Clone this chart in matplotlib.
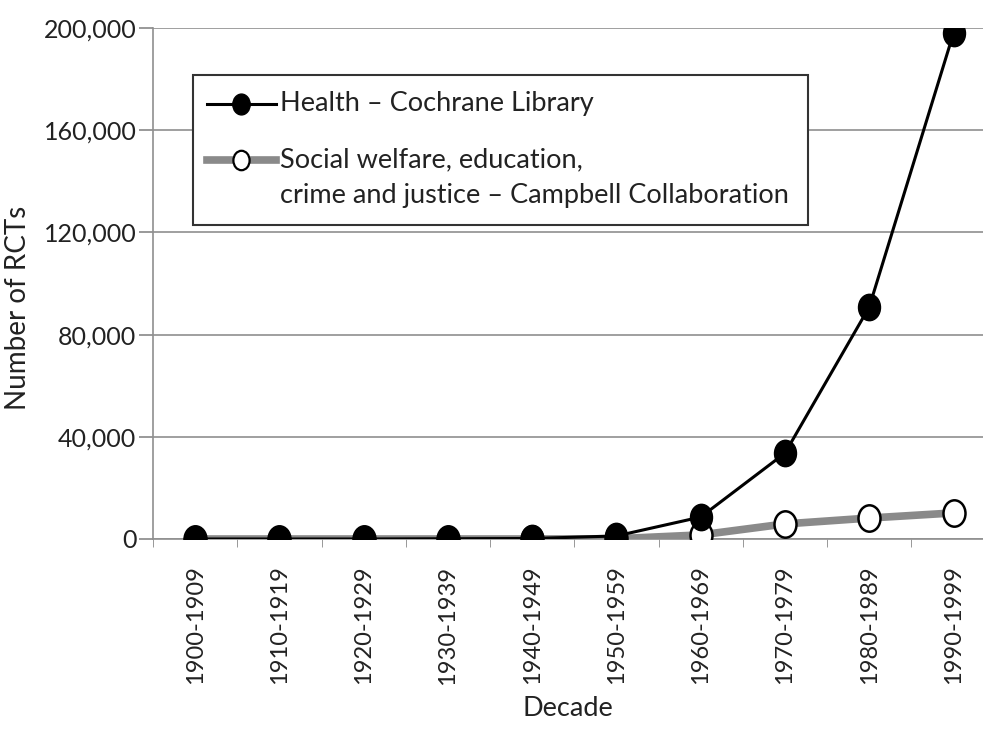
import matplotlib
matplotlib.use('Agg')
import matplotlib.pyplot as plt
from matplotlib.path import Path
from matplotlib.transforms import Affine2D
from matplotlib.lines import Line2D
from matplotlib.patches import Rectangle

decades = ['1900-1909', '1910-1919', '1920-1929', '1930-1939', '1940-1949',
           '1950-1959', '1960-1969', '1970-1979', '1980-1989', '1990-1999']
health = [0, 0, 0, 100, 200, 1200, 8600, 33600, 90800, 198000]
social = [0, 0, 0, 0, 0, 100, 1600, 5900, 8200, 10200]
yticks = [0, 40000, 80000, 120000, 160000, 200000]

plt.rcParams['font.family'] = ['Lato', 'DejaVu Sans']

# slightly tall ellipse marker, like the stretched original
ell = Path.unit_circle().transformed(Affine2D().scale(1.0, 1.2))

W, H = 983, 738
fig = plt.figure(figsize=(W / 100, H / 100), dpi=100)
L, R, T, B = 153, 983, 28, 539
ax = fig.add_axes([L / W, 1 - B / H, (R - L) / W, (B - T) / H])

x = list(range(len(decades)))
ax.plot(x, social, color='#8a8a8a', lw=5.5, marker=ell, ms=19,
        mfc='white', mec='black', mew=1.8, zorder=3, solid_capstyle='butt')
ax.plot(x, health, color='black', lw=2.2, marker=ell, ms=19,
        mfc='black', mec='black', zorder=4)

ax.set_xlim(-0.5, 9.35)
ax.set_ylim(0, 200000)
ax.set_yticks(yticks)
ax.set_yticklabels([f'{v:,}' for v in yticks], fontsize=18, color='#222222')
ax.set_xticks(x)
ax.set_xticklabels(decades, rotation=90, fontsize=17, color='#222222')
ax.set_xticks([i - 0.5 for i in x], minor=True)
ax.tick_params(axis='x', which='major', length=0, pad=19)
ax.tick_params(axis='x', which='minor', length=6, color='#888888', direction='out')
ax.tick_params(axis='y', length=10, color='#888888', width=1.2, pad=2)

ax.grid(axis='y', color='#8f8f8f', lw=1.2)
ax.set_axisbelow(True)
for s in ['top', 'right']:
    ax.spines[s].set_visible(False)
ax.spines['left'].set_color('#8f8f8f')
ax.spines['left'].set_linewidth(1.2)
ax.spines['bottom'].set_color('#8f8f8f')
ax.spines['bottom'].set_linewidth(1.2)

ax.set_ylabel('Number of RCTs', fontsize=20, color='#222222')
ax.yaxis.set_label_coords(-0.147, 0.452)
ax.set_xlabel('Decade', fontsize=19.5, color='#222222', labelpad=8)


def axp(px, py):
    return ((px - L) / (R - L), (B - py) / (B - T))


# legend box drawn by hand
x0, y0 = axp(193, 225)
x1, y1 = axp(808, 75)
ax.add_patch(Rectangle((x0, y0), x1 - x0, y1 - y0, transform=ax.transAxes,
                       facecolor='white', edgecolor='#333333', lw=1.5, zorder=5))

hx = [axp(207, 0)[0], axp(276, 0)[0]]
mx = axp(241, 0)[0]
_, ly1 = axp(0, 104)
_, ly2 = axp(0, 160)
_, ly3 = axp(0, 195)
ax.add_line(Line2D(hx, [ly1, ly1], color='black', lw=2.2, transform=ax.transAxes, zorder=6))
ax.add_line(Line2D([mx], [ly1], marker=ell, ms=15, mfc='black', mec='black',
                   transform=ax.transAxes, zorder=7))
ax.add_line(Line2D(hx, [ly2, ly2], color='#8a8a8a', lw=5.5, transform=ax.transAxes, zorder=6))
ax.add_line(Line2D([mx], [ly2], marker=ell, ms=14, mfc='white', mec='black', mew=1.6,
                   transform=ax.transAxes, zorder=7))
tx = axp(280, 0)[0]
ax.text(tx, ly1, 'Health – Cochrane Library', transform=ax.transAxes, fontsize=19.5,
        va='center', ha='left', color='#222222', zorder=7)
ax.text(tx, ly2, 'Social welfare, education,', transform=ax.transAxes, fontsize=19.5,
        va='center', ha='left', color='#222222', zorder=7)
ax.text(tx, ly3, 'crime and justice – Campbell Collaboration', transform=ax.transAxes,
        fontsize=19.5, va='center', ha='left', color='#222222', zorder=7)

fig.savefig('out.png', dpi=100)
